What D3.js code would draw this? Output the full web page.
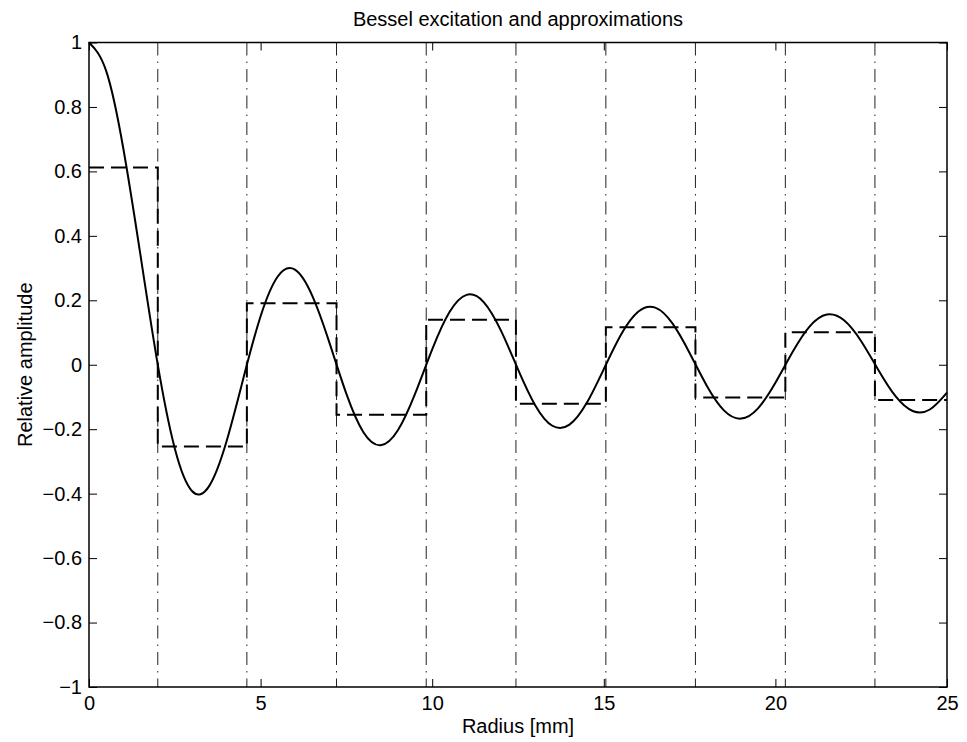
<!DOCTYPE html>
<html>
<head>
<meta charset="utf-8">
<script src="https://cdn.jsdelivr.net/npm/d3@7"></script>
<style>
  body { margin: 0; background: #fff; }
  text { font-family: "Liberation Sans", Arial, Helvetica, sans-serif; fill: #000; }
</style>
</head>
<body>
<div id="chart-area"></div>
<script>
// excitation curve, read every 0.5 mm
var radius = [0, 0.5, 1, 1.5, 2, 2.5, 3, 3.5, 4, 4.5, 5, 5.5, 6, 6.5, 7, 7.5, 8, 8.5, 9, 9.5,
  10, 10.5, 11, 11.5, 12, 12.5, 13, 13.5, 14, 14.5, 15, 15.5, 16, 16.5, 17, 17.5, 18, 18.5, 19, 19.5,
  20, 20.5, 21, 21.5, 22, 22.5, 23, 23.5, 24, 24.5, 25];
var amplitude = [1.0000, 0.9120, 0.6711, 0.3400, 0.0025, -0.2601, -0.3918, -0.3766, -0.2404, -0.0412,
  0.1507, 0.2740, 0.2951, 0.2154, 0.0704, -0.0903, -0.2101, -0.2496, -0.2032, -0.0903,
  0.0477, 0.1627, 0.2168, 0.1944, 0.1065, -0.0142, -0.1254, -0.1893, -0.1860, -0.1190,
  -0.0134, 0.0934, 0.1646, 0.1771, 0.1282, 0.0366, -0.0650, -0.1415, -0.1671, -0.1344,
  -0.0562, 0.0394, 0.1192, 0.1559, 0.1380, 0.0731, -0.0162, -0.0976, -0.1435, -0.1389, -0.0864];

// step approximation: zone borders and the level in each zone
var zoneEdges = [0, 2.004, 4.600, 7.212, 9.826, 12.44, 15.06, 17.67, 20.29, 22.90, 25];
var zoneLevels = [0.612, -0.254, 0.191, -0.155, 0.140, -0.121, 0.116, -0.102, 0.101, -0.109];

var xTicks = [0, 5, 10, 15, 20, 25];
var yTicks = [-1, -0.8, -0.6, -0.4, -0.2, 0, 0.2, 0.4, 0.6, 0.8, 1];
var yTickLabels = ["\u22121", "\u22120.8", "\u22120.6", "\u22120.4", "\u22120.2", "0", "0.2", "0.4", "0.6", "0.8", "1"];

var margin = { left: 89, right: 20, top: 42.5, bottom: 55 };
var width = 967 - margin.left - margin.right;
var height = 742 - margin.top - margin.bottom;

var svg = d3.select("#chart-area")
  .append("svg")
  .attr("width", 967)
  .attr("height", 742);

var g = svg.append("g")
  .attr("transform", "translate(" + margin.left + "," + margin.top + ")");

var x = d3.scaleLinear().domain([0, 25]).range([0, width]);
var y = d3.scaleLinear().domain([-1, 1]).range([height, 0]);

// Axes (ticks point inward, MATLAB style)
var xAxisCall = d3.axisBottom(x).tickValues(xTicks).tickSize(-8).tickSizeOuter(0).tickPadding(9);
var yAxisCall = d3.axisLeft(y).tickValues(yTicks).tickSize(-8).tickSizeOuter(0).tickPadding(7)
  .tickFormat((d, i) => yTickLabels[i]);

g.append("g")
  .attr("class", "x-axis")
  .attr("transform", "translate(0," + height + ")")
  .call(xAxisCall);
g.append("g")
  .attr("class", "x-axis-top")
  .call(d3.axisTop(x).tickValues(xTicks).tickSize(-8).tickSizeOuter(0).tickFormat(""));
g.append("g")
  .attr("class", "y-axis")
  .call(yAxisCall);
g.append("g")
  .attr("class", "y-axis-right")
  .attr("transform", "translate(" + width + ",0)")
  .call(d3.axisRight(y).tickValues(yTicks).tickSize(-8).tickSizeOuter(0).tickFormat(""));

g.selectAll(".domain").remove();
g.selectAll(".tick line").attr("stroke", "#000").attr("stroke-width", 1);
g.selectAll(".tick text").attr("font-size", "20px").attr("fill", "#000");

// zone borders
g.selectAll(".zone-line")
  .data(zoneEdges.slice(1, -1))
  .enter()
  .append("line")
  .attr("class", "zone-line")
  .attr("x1", d => x(d))
  .attr("x2", d => x(d))
  .attr("y1", y(1))
  .attr("y2", y(-1))
  .attr("stroke", "#222")
  .attr("stroke-width", 1)
  .attr("stroke-dasharray", "13,6,1.5,6");

// step approximation
var steps = zoneEdges.map((e, i) => ({ x: e, y: zoneLevels[Math.min(i, zoneLevels.length - 1)] }));
var stepLine = d3.line()
  .x(d => x(d.x))
  .y(d => y(d.y))
  .curve(d3.curveStepAfter);
g.append("path")
  .datum(steps)
  .attr("d", stepLine)
  .attr("fill", "none")
  .attr("stroke", "#000")
  .attr("stroke-width", 2)
  .attr("stroke-dasharray", "15,7");

// excitation
var curveLine = d3.line()
  .x((d, i) => x(radius[i]))
  .y(d => y(d))
  .curve(d3.curveNatural);
g.append("path")
  .datum(amplitude)
  .attr("d", curveLine)
  .attr("fill", "none")
  .attr("stroke", "#000")
  .attr("stroke-width", 2);

// box
g.append("rect")
  .attr("width", width)
  .attr("height", height)
  .attr("fill", "none")
  .attr("stroke", "#000")
  .attr("stroke-width", 1.5);

// Title
g.append("text")
  .attr("x", width / 2)
  .attr("y", -17)
  .attr("text-anchor", "middle")
  .attr("font-size", "20px")
  .text("Bessel excitation and approximations");

// X Label
g.append("text")
  .attr("x", width / 2)
  .attr("y", height + 46)
  .attr("text-anchor", "middle")
  .attr("font-size", "20px")
  .text("Radius [mm]");

// Y Label
g.append("text")
  .attr("transform", "rotate(-90)")
  .attr("x", -(height / 2))
  .attr("y", -57)
  .attr("text-anchor", "middle")
  .attr("font-size", "20px")
  .text("Relative amplitude");
</script>
</body>
</html>
